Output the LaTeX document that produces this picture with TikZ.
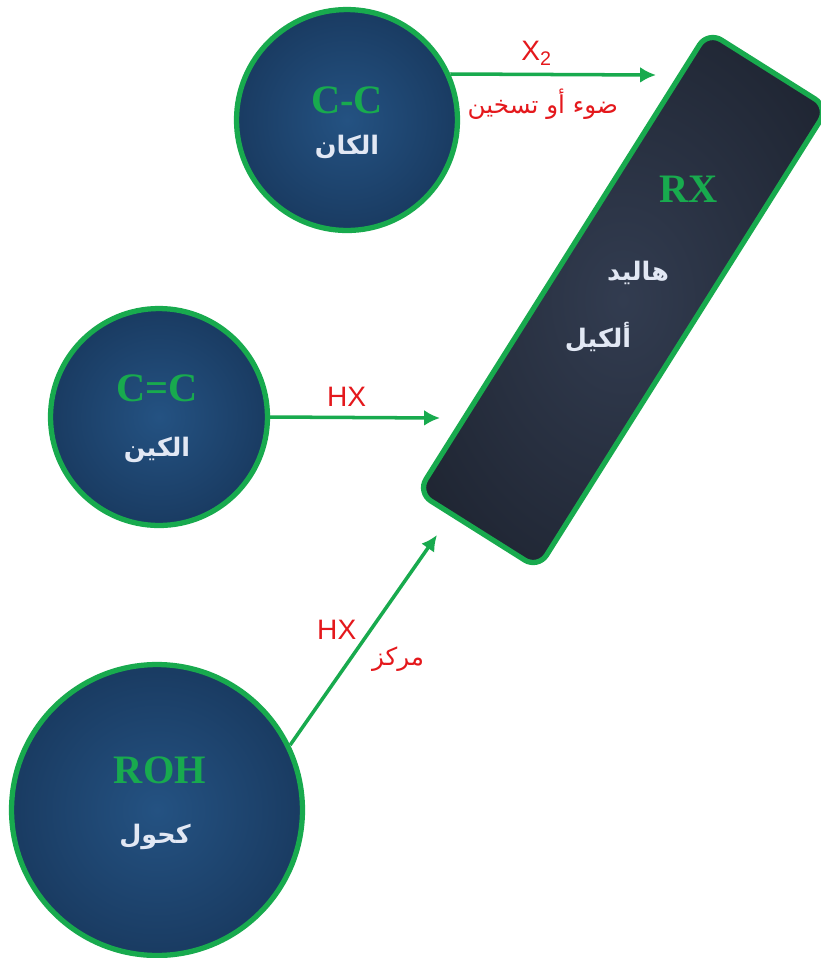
\documentclass[tikz,border=0pt]{standalone}
\usepackage{fontspec}
\setmainfont{Liberation Serif}
\newfontfamily\arabicfont[Script=Arabic]{DejaVu Sans}
\newfontfamily\latinsans{Liberation Sans}
\TeXXeTstate=1
\usepackage{tikz}
\usetikzlibrary{positioning}
\usetikzlibrary{arrows.meta}
\usetikzlibrary{shapes}

\definecolor{rimgreen}{RGB}{24,170,78}
\definecolor{labelred}{RGB}{228,24,28}
\definecolor{ballin}{RGB}{36,82,130}
\definecolor{ballout}{RGB}{16,38,68}
\definecolor{boxin}{RGB}{50,60,80}
\definecolor{boxout}{RGB}{25,30,41}
\definecolor{namewhite}{RGB}{226,232,244}

\pgfdeclareradialshading{ballglow}{\pgfpoint{0bp}{0bp}}{color(0bp)=(ballin); color(48bp)=(ballout); color(60bp)=(ballout)}
\pgfdeclareradialshading{barglow}{\pgfpoint{0bp}{0bp}}{color(0bp)=(boxin); color(40bp)=(boxout); color(60bp)=(boxout)}

\tikzset{
  ball/.style={circle, draw=rimgreen, line width=3pt, shading=ballglow,
    minimum size=#1, inner sep=0pt},
  bar/.style={rectangle, rounded corners=9pt, draw=rimgreen, line width=3pt,
    shading=barglow, minimum width=10.9cm, minimum height=2.85cm, inner sep=0pt},
  formula/.style={text=rimgreen, font=\bfseries\fontsize{23}{26}\selectfont},
  arlabel/.style={text=namewhite, font=\arabicfont\bfseries\fontsize{14.5}{17}\selectfont},
  cond/.style={text=labelred, font=\latinsans\fontsize{16}{19}\selectfont},
  arcond/.style={text=labelred, font=\arabicfont\fontsize{14}{16}\selectfont},
  flow/.style={color=rimgreen, line width=2pt, ->, >={Latex[length=9pt,width=9pt]}}
}

\begin{document}
\begin{tikzpicture}[x=0.02cm,y=-0.02cm]
   \useasboundingbox (0,0) rectangle (821,958);

   % alkyl halide
   \node[bar, rotate=57.8] (rx) at (623,300) {};
   \node[formula] (rxf) at (689,189) {RX};
   \node[arlabel] (rxa) at (638,273) {\beginR هاليد\endR};
   \node[arlabel] (rxb) at (598,337) {\beginR ألكيل\endR};

   % starting compounds
   \node[ball=4.42cm] (c1) at (347,120) {};
   \node[formula] (c1f) at (347,100) {C-C};
   \node[arlabel] (c1a) at (347,147) {\beginR الكان\endR};

   \node[ball=4.34cm] (c2) at (159,417) {};
   \node[formula] (c2f) at (157,388) {C=C};
   \node[arlabel] (c2a) at (157,450) {\beginR الكين\endR};

   \node[ball=5.82cm] (c3) at (157,810) {};
   \node[formula] (c3f) at (160,770) {ROH};
   \node[arlabel] (c3a) at (155,837) {\beginR كحول\endR};

   \coordinate (t1) at (656,75);
   \coordinate (t2) at (440,418);
   \coordinate (t3) at (437,535);

   \path[flow]
   (c1.24) edge node[cond, above=1pt, pos=0.42] (x2) {X\textsubscript{2}}
                node[arcond, below=4pt, pos=0.45] (heat) {\beginR ضوء أو تسخين\endR} (t1)
   (c2.east) edge node[cond, above=2pt, pos=0.45] (hx1) {HX} (t2)
   (c3.26) edge node[cond, left=4pt, pos=0.55] (hx2) {HX}
                node[arcond, right=8pt, pos=0.41] (conc) {\beginR مركز\endR} (t3);
\end{tikzpicture}
\end{document}
